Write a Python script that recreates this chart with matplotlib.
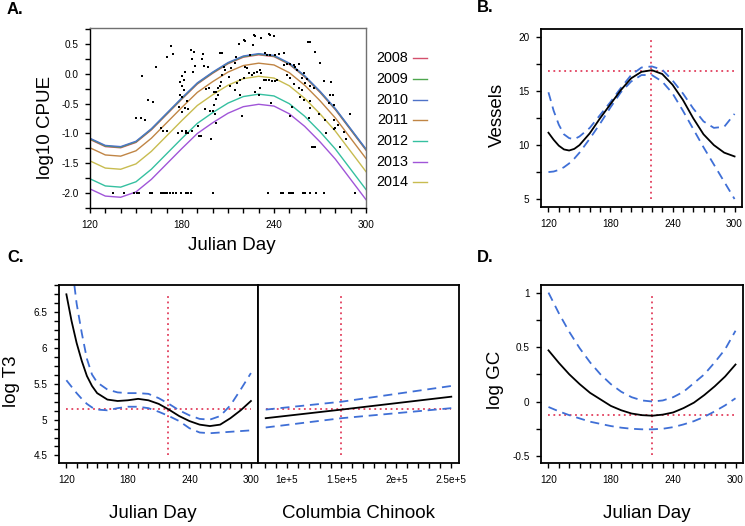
import matplotlib
matplotlib.use("Agg")
import matplotlib.pyplot as plt
from matplotlib.ticker import MultipleLocator, FixedLocator, FixedFormatter
from matplotlib.lines import Line2D

plt.rcParams['font.family'] = ['Liberation Sans', 'DejaVu Sans']
plt.rcParams['axes.unicode_minus'] = False

# ---------------- data ----------------
# Panel A: fitted log10 CPUE by year, Julian day grid
A_days = [120, 130, 140, 150, 160, 170, 180, 190, 200, 210, 220, 230, 240, 250, 260, 270, 280, 290, 300]
years = ['2008', '2009', '2010', '2011', '2012', '2013', '2014']
year_colors = ['#D4506C', '#4DA64D', '#4E72C8', '#C08545', '#35C0A0', '#A055D8', '#C8BC50']
cpue_2008 = [-1.10, -1.22, -1.24, -1.15, -0.94, -0.68, -0.42, -0.17, 0.01, 0.17, 0.28, 0.32, 0.29, 0.16, -0.05, -0.31, -0.60, -0.94, -1.28]
cpue_2009 = [-1.09, -1.21, -1.23, -1.14, -0.93, -0.67, -0.41, -0.16, 0.02, 0.18, 0.29, 0.33, 0.30, 0.17, -0.04, -0.30, -0.59, -0.93, -1.27]
cpue_2010 = [-1.08, -1.20, -1.22, -1.13, -0.92, -0.66, -0.40, -0.15, 0.03, 0.19, 0.30, 0.34, 0.31, 0.18, -0.03, -0.29, -0.58, -0.92, -1.26]
cpue_2011 = [-1.24, -1.36, -1.38, -1.29, -1.08, -0.82, -0.56, -0.31, -0.13, 0.03, 0.14, 0.18, 0.15, 0.02, -0.19, -0.45, -0.74, -1.08, -1.42]
cpue_2012 = [-1.76, -1.88, -1.90, -1.81, -1.60, -1.34, -1.08, -0.83, -0.65, -0.49, -0.38, -0.34, -0.37, -0.50, -0.71, -0.97, -1.26, -1.60, -1.94]
cpue_2013 = [-1.93, -2.05, -2.07, -1.98, -1.77, -1.51, -1.25, -1.00, -0.82, -0.66, -0.55, -0.51, -0.54, -0.67, -0.88, -1.14, -1.43, -1.77, -2.11]
cpue_2014 = [-1.46, -1.58, -1.60, -1.51, -1.30, -1.04, -0.78, -0.53, -0.35, -0.19, -0.08, -0.04, -0.07, -0.20, -0.41, -0.67, -0.96, -1.30, -1.64]
cpue_curves = [cpue_2008, cpue_2009, cpue_2010, cpue_2011, cpue_2012, cpue_2013, cpue_2014]

# Panel A: observed points
obs_day = [135, 142, 149, 150.5, 152, 159, 160.3, 166.4, 167.5, 168.6, 170, 172.3, 174.4, 176, 179.5,
           182.7, 184.2, 186, 199.9, 235.9, 244.8, 245.9, 249.6, 251.1, 252.4, 258.7, 260.5, 263.7,
           267.7, 272.9, 292.7,
           149.9, 153.1, 155.9, 166.4, 167.9, 170.1, 177.3, 179.9, 182.7, 182.7, 184.2, 186.8, 190.4,
           190.8, 191.9, 192.5, 198.8, 199.9, 201.2, 202.1, 219.1, 250.7, 262.6, 269.6, 273.5, 274.0,
           264.8, 265.5, 266.2, 266.9, 283.3, 279.0, 280.0, 281.6, 289.4, 287.0,
           154.2, 162.9, 158.1, 161.0, 170.1, 172.9, 174.0, 179.9, 182.1, 178.8, 181.0, 179.9, 181.4,
           178.8, 180.3, 178.2, 179.9, 182.1, 184.2, 183.2, 186.0, 188.1, 186.8, 188.6, 187.0,
           193.4, 194.5, 193.0, 196.9, 195.6, 197.7, 200.6, 202.1, 203.4, 200.6, 198.4, 195.1, 202.1,
           203.8, 206.0, 205.6,
           220.2, 221.3, 226.7, 227.8, 226.1, 231.5, 236.5, 237.6, 239.8, 216.9, 204.9, 215.4, 224.5,
           234.3, 235.4, 237.6, 240.9, 243.0, 246.3, 262.0, 263.7, 267.0, 270.3, 246.3, 248.5, 250.7,
           252.8, 253.9, 256.1, 255.0, 259.4, 258.3, 261.5, 260.5, 263.7, 265.9, 272.9, 276.8, 279.0,
           221.3, 222.4, 223.4, 226.7, 228.9, 231.1, 231.5, 225.6, 233.2, 235.0, 236.5, 238.7, 240.9,
           241.9, 215.8, 218.0, 220.2, 230.6, 227.8, 248.5, 250.7, 252.8, 256.1, 258.3, 257.2, 259.4,
           263.3, 206.0, 207.1, 208.2, 214.7, 204.9, 218.0, 230.0, 238.0, 251.7, 263.7, 214.7,
           278.2, 279.3, 285.8, 276.0, 277.1, 230.2, 212.0, 210.5, 211.5]
obs_val = [-2.0] * 31 + [
           -0.74, -0.74, -0.77, -0.91, -0.95, -0.95, -1.00, -0.95, -0.95, -1.00, -1.00, -0.95, -0.88,
           -1.04, -1.04, -1.04, -1.09, -0.63, -0.67, -0.82, -0.70, -0.70, -0.74, -0.67, -0.77, -1.00,
           -1.22, -1.22, -1.22, -1.22, -1.22, -0.93, -0.91, -0.86, -0.67, -1.09,
           -0.04, 0.11, -0.44, -0.47, 0.29, 0.47, 0.33, -0.03, 0.03, -0.14, -0.10, -0.20, -0.27,
           -0.36, -0.39, -0.56, -0.64, -0.58, -0.59, -0.45, 0.40, 0.36, 0.25, 0.14, 0.04,
           0.34, 0.14, 0.25, 0.12, -0.26, -0.24, -0.30, -0.30, -0.24, -0.52, -0.63, -0.59, -0.42,
           -0.35, 0.35, -0.13,
           0.57, 0.56, 0.65, 0.63, 0.49, 0.60, 0.67, 0.66, 0.64, 0.50, 0.35, 0.29, 0.31,
           0.35, 0.32, 0.31, 0.32, 0.34, 0.35, 0.54, 0.54, 0.36, 0.18, 0.15, 0.16, 0.17,
           0.15, 0.12, 0.17, 0.07, 0.01, -0.07, -0.09, -0.16, -0.21, -0.24, -0.12, -0.35, -0.52,
           0.12, 0.10, 0.01, 0.02, 0.04, 0.07, 0.02, -0.02, -0.11, -0.11, -0.10, -0.12, -0.12,
           -0.10, -0.16, -0.10, -0.07, -0.24, -0.30, -0.02, -0.07, -0.17, -0.24, -0.27, -0.38, -0.44,
           -0.46, -0.02, 0.12, 0.07, -0.27, -0.21, -0.35, -0.35, -0.49, -0.55, -0.58, 0.18,
           -0.35, -0.78, -0.97, -0.49, -0.13, -0.35, 0.10, -0.05, -0.20]

# Panel B: Vessels smooth with confidence band
B_days = [120, 125, 130, 135, 140, 145, 150, 160, 170, 180, 190, 200, 210, 220, 230, 240, 250, 260, 270, 280, 290, 300]
B_fit = [11.15, 10.5, 9.95, 9.6, 9.5, 9.65, 10.0, 11.1, 12.5, 13.8, 15.1, 16.2, 16.8, 16.95, 16.6, 15.6, 14.2, 12.5, 11.0, 10.0, 9.3, 8.95]
B_upper = [14.9, 13.2, 11.9, 11.0, 10.65, 10.55, 10.8, 11.6, 12.8, 14.0, 15.3, 16.5, 17.2, 17.3, 17.0, 16.0, 14.8, 13.4, 12.2, 11.6, 11.7, 12.9]
B_lower = [7.5, 7.55, 7.7, 7.95, 8.3, 8.75, 9.3, 10.6, 12.0, 13.5, 14.9, 15.9, 16.5, 16.5, 15.9, 14.8, 13.2, 11.5, 9.8, 8.2, 6.6, 5.0]
B_ref_x = 219
B_ref_y = 16.9
B_vline = [5, 20]

# Panel C: log T3 smooth of Julian day + linear effect of Columbia Chinook
C_days = [120, 125, 130, 135, 140, 145, 150, 160, 170, 180, 190, 200, 210, 220, 230, 240, 250, 260, 270, 280, 290, 300]
C_fit = [6.75, 6.38, 6.07, 5.82, 5.61, 5.47, 5.37, 5.28, 5.26, 5.27, 5.29, 5.27, 5.22, 5.14, 5.05, 4.98, 4.93, 4.91, 4.93, 5.02, 5.13, 5.26]
C_upper = [7.9, 7.2, 6.62, 6.21, 5.85, 5.63, 5.52, 5.42, 5.38, 5.37, 5.37, 5.36, 5.30, 5.22, 5.13, 5.06, 5.01, 5.00, 5.05, 5.20, 5.42, 5.65]
C_lower = [5.55, 5.46, 5.37, 5.29, 5.22, 5.17, 5.14, 5.13, 5.16, 5.18, 5.18, 5.16, 5.11, 5.05, 4.98, 4.88, 4.82, 4.81, 4.82, 4.83, 4.84, 4.85]
C_ref_day = 219
C_ref_y = 5.148
C_vline = [4.5, 6.77]
chinook = [81000, 150000, 250000]
chin_fit = [5.02, 5.14, 5.32]
chin_upper = [5.14, 5.25, 5.47]
chin_lower = [4.89, 5.02, 5.16]
chin_ref_x = 150000

# Panel D: log GC smooth
D_days = [120, 130, 140, 150, 160, 170, 180, 190, 200, 210, 220, 230, 240, 250, 260, 270, 280, 290, 300]
D_fit = [0.47, 0.355, 0.25, 0.16, 0.08, 0.02, -0.04, -0.08, -0.11, -0.125, -0.13, -0.12, -0.10, -0.06, -0.01, 0.06, 0.14, 0.23, 0.34]
D_upper = [1.0, 0.81, 0.64, 0.49, 0.36, 0.25, 0.16, 0.09, 0.04, 0.01, 0.0, 0.01, 0.04, 0.09, 0.17, 0.25, 0.36, 0.48, 0.65]
D_lower = [-0.05, -0.09, -0.125, -0.155, -0.185, -0.205, -0.225, -0.24, -0.25, -0.255, -0.255, -0.25, -0.235, -0.21, -0.18, -0.14, -0.09, -0.035, 0.03]
D_ref_x = 219.5
D_ref_y = -0.128
D_vline = [-0.49, 1.0]

day_ticks = [120, 180, 240, 300]

# ---------------- figure ----------------
W, H = 745, 526
fig = plt.figure(figsize=(W / 100, H / 100), dpi=100)


def px_axes(x0, y0, x1, y1):
    return fig.add_axes([x0 / W, 1 - y1 / H, (x1 - x0) / W, (y1 - y0) / H])


def ftext(x, y, s, **kw):
    fig.text(x / W, 1 - y / H, s, **kw)


TICK_FS = 7.2
LAB_FS = 13.5
RED = '#E2405E'
BLUE = '#3F6FD6'
DOT = (0, (1, 2))
DASH = (0, (5, 3.2))


def style(ax, spine_w=1.3):
    ax.tick_params(which='both', direction='out', length=3.3, width=1.0,
                   labelsize=TICK_FS, pad=5, colors='black')
    for s in ax.spines.values():
        s.set_linewidth(spine_w)


def day_axis(ax):
    ax.xaxis.set_major_locator(FixedLocator(day_ticks))
    ax.xaxis.set_minor_locator(MultipleLocator(10))


# ---- Panel A ----
axA = px_axes(90, 28, 366, 208)
for yr, col, vals in zip(years, year_colors, cpue_curves):
    axA.plot(A_days, vals, color=col, lw=1.0, zorder=2)
axA.scatter(obs_day, obs_val, s=3, marker='s', color='black', linewidths=0, zorder=3)
axA.set_xlim(120, 300)
axA.set_ylim(-2.25, 0.77)
day_axis(axA)
axA.yaxis.set_major_locator(MultipleLocator(0.5))
axA.yaxis.set_minor_locator(MultipleLocator(0.25))
axA.yaxis.set_major_formatter(matplotlib.ticker.FormatStrFormatter('%.1f'))
style(axA, 1.0)
for sp in ['top', 'right']:
    axA.spines[sp].set_color('#707070')

# legend (label left of swatch)
leg_y = [58.3, 79, 99.7, 120.3, 141, 161.7, 182.3]
for yr, col, yy in zip(years, year_colors, leg_y):
    ftext(408, yy, yr, ha='right', va='center', fontsize=10.4)
    fig.add_artist(Line2D([413 / W, 427 / W], [1 - yy / H, 1 - yy / H], color=col, lw=1.0))

# ---- Panel B ----
axB = px_axes(541, 29, 742, 207)
axB.plot([120, 300], [B_ref_y, B_ref_y], color=RED, lw=1.3, ls=DOT)
axB.plot([B_ref_x, B_ref_x], B_vline, color=RED, lw=1.3, ls=DOT)
axB.plot(B_days, B_upper, color=BLUE, lw=1.3, ls=DASH)
axB.plot(B_days, B_lower, color=BLUE, lw=1.3, ls=DASH)
axB.plot(B_days, B_fit, color='black', lw=1.3)
axB.set_xlim(112.8, 307.2)
axB.set_ylim(4.26, 20.77)
day_axis(axB)
axB.yaxis.set_major_locator(MultipleLocator(5))
axB.yaxis.set_minor_locator(MultipleLocator(2.5))
style(axB)

# ---- Panel C (left: Julian day) ----
axC1 = px_axes(59, 285, 258.3, 463.3)
axC1.plot([120, 300], [C_ref_y, C_ref_y], color=RED, lw=1.3, ls=DOT)
axC1.plot([C_ref_day, C_ref_day], C_vline, color=RED, lw=1.3, ls=DOT)
axC1.plot(C_days, C_upper, color=BLUE, lw=1.3, ls=DASH)
axC1.plot(C_days, C_lower, color=BLUE, lw=1.3, ls=DASH)
axC1.plot(C_days, C_fit, color='black', lw=1.3)
axC1.set_xlim(112.8, 307.2)
axC1.set_ylim(4.39, 6.88)
day_axis(axC1)
axC1.yaxis.set_major_locator(FixedLocator([4.5, 5, 5.5, 6, 6.5]))
axC1.yaxis.set_major_formatter(FixedFormatter(['4.5', '5', '5.5', '6', '6.5']))
axC1.yaxis.set_minor_locator(MultipleLocator(0.125))
style(axC1)

# ---- Panel C (right: Columbia Chinook) ----
axC2 = px_axes(258.3, 285, 458.7, 463.3)
axC2.plot([chinook[0], chinook[-1]], [C_ref_y, C_ref_y], color=RED, lw=1.3, ls=DOT)
axC2.plot([chin_ref_x, chin_ref_x], C_vline, color=RED, lw=1.3, ls=DOT)
axC2.plot(chinook, chin_upper, color=BLUE, lw=1.3, ls=DASH)
axC2.plot(chinook, chin_lower, color=BLUE, lw=1.3, ls=DASH)
axC2.plot(chinook, chin_fit, color='black', lw=1.3)
axC2.set_xlim(74240, 256760)
axC2.set_ylim(4.39, 6.88)
axC2.xaxis.set_major_locator(FixedLocator([100000, 150000, 200000, 250000]))
axC2.xaxis.set_major_formatter(FixedFormatter(['1e+5', '1.5e+5', '2e+5', '2.5e+5']))
axC2.xaxis.set_minor_locator(MultipleLocator(10000))
axC2.set_yticks([])
style(axC2)

# ---- Panel D ----
axD = px_axes(541, 285, 743, 463.3)
axD.plot([120, 300], [D_ref_y, D_ref_y], color=RED, lw=1.3, ls=DOT)
axD.plot([D_ref_x, D_ref_x], D_vline, color=RED, lw=1.3, ls=DOT)
axD.plot(D_days, D_upper, color=BLUE, lw=1.3, ls=DASH)
axD.plot(D_days, D_lower, color=BLUE, lw=1.3, ls=DASH)
axD.plot(D_days, D_fit, color='black', lw=1.3)
axD.set_xlim(112.8, 307.2)
axD.set_ylim(-0.567, 1.07)
day_axis(axD)
axD.yaxis.set_major_locator(FixedLocator([-0.5, 0, 0.5, 1]))
axD.yaxis.set_major_formatter(FixedFormatter(['-0.5', '0', '0.5', '1']))
axD.yaxis.set_minor_locator(MultipleLocator(0.25))
style(axD)

# ---- labels ----
ftext(46, 127, 'log10 CPUE', rotation=90, ha='center', va='center', fontsize=LAB_FS)
ftext(232, 245, 'Julian Day', ha='center', va='center', fontsize=LAB_FS)
ftext(497, 115, 'Vessels', rotation=90, ha='center', va='center', fontsize=LAB_FS)
ftext(11, 381, 'log T3', rotation=90, ha='center', va='center', fontsize=LAB_FS)
ftext(153, 514, 'Julian Day', ha='center', va='center', fontsize=LAB_FS)
ftext(358, 514, 'Columbia Chinook', ha='center', va='center', fontsize=LAB_FS)
ftext(496, 380, 'log GC', rotation=90, ha='center', va='center', fontsize=LAB_FS)
ftext(647, 514, 'Julian Day', ha='center', va='center', fontsize=LAB_FS)

for s, x, y in [('A.', 7, 9), ('B.', 477, 8), ('C.', 7, 258), ('D.', 477, 258)]:
    ftext(x, y, s, ha='left', va='center', fontsize=12, fontweight='bold')

fig.savefig('out.png', dpi=100)
